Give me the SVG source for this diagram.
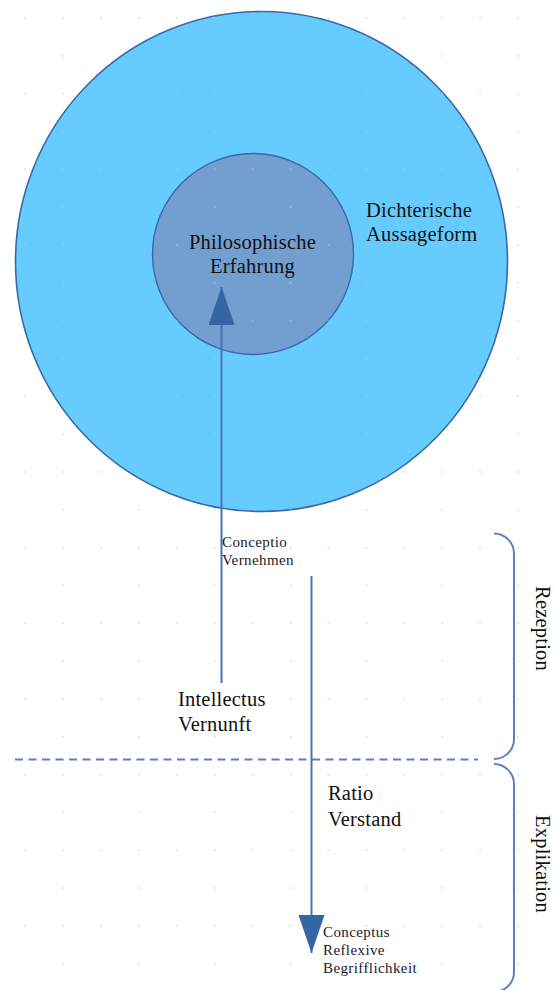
<svg xmlns="http://www.w3.org/2000/svg" width="554" height="990" viewBox="0 0 554 990">
  <style>
    .big { font-family: "Liberation Serif", "Times New Roman", serif; font-size: 20.5px; letter-spacing: 0.2px; fill: #111111; }
    .small { font-family: "Liberation Serif", "Times New Roman", serif; font-size: 15px; letter-spacing: 0.4px; fill: #1a1a2a; }
    .conn { fill: none; stroke: #4a74b0; stroke-width: 2; }
    .brace { fill: none; stroke: #5b82bd; stroke-width: 2; }
    .dash { fill: none; stroke: #5a80bb; stroke-width: 2; stroke-dasharray: 8 5.5; }
  </style>
  <defs>
    <pattern id="grid" patternUnits="userSpaceOnUse" x="6.14" y="-0.92" width="75.84" height="75.66">
      <circle cx="18.96" cy="18.92" r="0.8" fill="#c4c4c4"/>
      <circle cx="56.88" cy="18.92" r="0.8" fill="#c4c4c4"/>
      <circle cx="56.88" cy="56.75" r="0.8" fill="#c4c4c4"/>
    </pattern>
    <marker id="head" viewBox="0 0 38 26" refX="38" refY="13" markerWidth="38" markerHeight="26" markerUnits="userSpaceOnUse" orient="auto">
      <path d="M0,0 L38,13 L0,26 Z" fill="#3465a4"/>
    </marker>
  </defs>

  <rect width="554" height="990" fill="#ffffff"/>

  <g id="outer">
    <ellipse cx="261.5" cy="261.5" rx="246" ry="250" fill="#66ccff" stroke="#3a68a8" stroke-width="1.6"/>
  </g>
  <g id="inner">
    <circle cx="253" cy="254" r="100.5" fill="#729fcf" stroke="#3a68a8" stroke-width="1.4"/>
  </g>

  <rect width="554" height="990" fill="url(#grid)"/>

  <g id="connectors">
    <path class="conn" d="M221.5,683 V287" marker-end="url(#head)"/>
    <path class="conn" d="M311.5,576 V953" marker-end="url(#head)"/>
    <path class="dash" d="M15,759.5 H478"/>
  </g>

  <g id="outer-label">
    <text class="big" x="366" y="217">Dichterische</text>
    <text class="big" x="366" y="241">Aussageform</text>
  </g>
  <g id="inner-label">
    <text class="big" x="252.5" y="249" text-anchor="middle">Philosophische</text>
    <text class="big" x="252.5" y="273" text-anchor="middle">Erfahrung</text>
  </g>
  <g id="conceptio">
    <text class="small" x="222" y="547">Conceptio</text>
    <text class="small" x="222" y="565">Vernehmen</text>
  </g>
  <g id="intellectus">
    <text class="big" x="178" y="706">Intellectus</text>
    <text class="big" x="178" y="731">Vernunft</text>
  </g>
  <g id="ratio">
    <text class="big" x="328" y="800">Ratio</text>
    <text class="big" x="328" y="826">Verstand</text>
  </g>
  <g id="conceptus">
    <text class="small" x="323" y="937">Conceptus</text>
    <text class="small" x="323" y="955">Reflexive</text>
    <text class="small" x="323" y="973">Begrifflichkeit</text>
  </g>

  <g id="rezeption">
    <path class="brace" d="M494,533.5 A20,20 0 0 1 514,553.5 V739 A20,20 0 0 1 494,759"/>
    <text class="big" transform="translate(535.5,628.5) rotate(90)" text-anchor="middle">Rezeption</text>
  </g>
  <g id="explikation">
    <path class="brace" d="M494,764 A20,20 0 0 1 514,784 V972 A20,20 0 0 1 494,992"/>
    <text class="big" transform="translate(535.5,864) rotate(90)" text-anchor="middle">Explikation</text>
  </g>
</svg>
